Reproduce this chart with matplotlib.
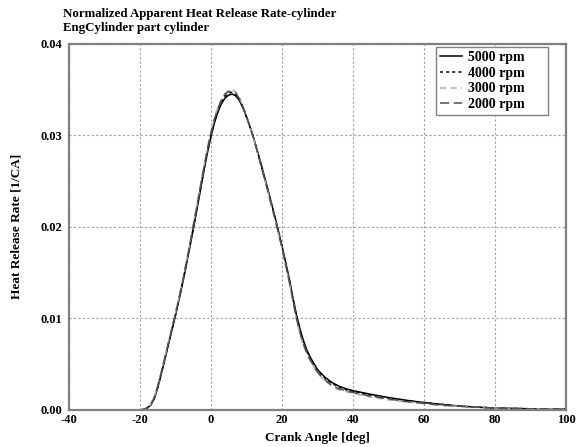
import numpy as np
import matplotlib
matplotlib.use('Agg')
import matplotlib.pyplot as plt

plt.rcParams['font.family'] = ['Liberation Serif', 'DejaVu Serif']
plt.rcParams['font.weight'] = 'bold'
plt.rcParams['axes.labelweight'] = 'bold'
plt.rcParams['axes.unicode_minus'] = False
plt.rcParams['font.size'] = 9

# crank angle [deg] and normalized heat release rate [1/CA]
angle = [-20, -19, -18, -17, -16, -15, -14, -12, -10, -8, -6, -4, -2,
         -1, 0, 1, 2, 3, 4, 5, 6, 7, 8, 9, 10, 11, 12,
         14, 16, 18, 20, 22, 23, 24, 25, 26, 27, 28,
         30, 32, 34, 36, 38, 40, 45, 50, 55, 60, 65, 70, 75, 80, 90, 100]
hrr_5000 = [0.0, 0.00005, 0.0002, 0.0005, 0.0012, 0.0024, 0.0039, 0.0071,
            0.0103, 0.0138, 0.0177, 0.0218, 0.0261,
            0.0281, 0.0299, 0.0314, 0.0326, 0.0335, 0.0341, 0.0344, 0.0345,
            0.0343, 0.0338, 0.0330, 0.0320, 0.0309, 0.0297,
            0.0270, 0.0241, 0.0211, 0.0179, 0.0144, 0.0124, 0.0105, 0.0089,
            0.0076, 0.0065, 0.0057,
            0.0044, 0.0036, 0.0030, 0.0026, 0.0023, 0.0021, 0.0017, 0.00135,
            0.00105, 0.0008, 0.0006, 0.00042, 0.0003, 0.0002, 0.00012, 0.0001]
hrr_4000 = [0.0, 0.00005, 0.0002, 0.0005, 0.0013, 0.0025, 0.0040, 0.0072,
            0.0104, 0.0139, 0.0178, 0.0220, 0.0263,
            0.0283, 0.0301, 0.0316, 0.0328, 0.0337, 0.0343, 0.0346, 0.0347,
            0.0345, 0.0339, 0.0331, 0.0320, 0.0309, 0.0297,
            0.0269, 0.0240, 0.0210, 0.0178, 0.0142, 0.0122, 0.0103, 0.0087,
            0.0074, 0.0064, 0.0056,
            0.0043, 0.0035, 0.0029, 0.0025, 0.0022, 0.0020, 0.0016, 0.0013,
            0.0010, 0.0008, 0.0006, 0.0004, 0.0003, 0.0002, 0.00012, 0.0001]
hrr_3000 = [0.0, 0.00005, 0.0002, 0.0006, 0.0014, 0.0026, 0.0041, 0.0074,
            0.0106, 0.0141, 0.0181, 0.0223, 0.0266,
            0.0286, 0.0304, 0.0319, 0.0331, 0.0340, 0.0346, 0.0349, 0.0350,
            0.0347, 0.0341, 0.0332, 0.0321, 0.0309, 0.0296,
            0.0268, 0.0239, 0.0208, 0.0176, 0.0140, 0.0120, 0.0100, 0.0084,
            0.0071, 0.0061, 0.0053,
            0.0040, 0.0032, 0.0026, 0.0022, 0.0020, 0.0018, 0.0014, 0.0011,
            0.0009, 0.0007, 0.0005, 0.0004, 0.0003, 0.0002, 0.00012, 0.0001]
hrr_2000 = [0.0, 0.00005, 0.0002, 0.0006, 0.0013, 0.0026, 0.0041, 0.0073,
            0.0105, 0.0140, 0.0180, 0.0222, 0.0265,
            0.0285, 0.0303, 0.0318, 0.0330, 0.0339, 0.0345, 0.0348, 0.0348,
            0.0346, 0.0340, 0.0331, 0.0321, 0.0309, 0.0297,
            0.0268, 0.0239, 0.0209, 0.0177, 0.0141, 0.0121, 0.0101, 0.0085,
            0.0072, 0.0062, 0.0054,
            0.0041, 0.0033, 0.0027, 0.0023, 0.0021, 0.0019, 0.0015, 0.0012,
            0.0009, 0.0007, 0.0005, 0.0004, 0.0003, 0.0002, 0.00012, 0.0001]

series = [('5000 rpm', hrr_5000, 'black', '-'),
          ('4000 rpm', hrr_4000, 'black', (0, (2, 2))),
          ('3000 rpm', hrr_3000, '#a8a8a8', (0, (4, 3))),
          ('2000 rpm', hrr_2000, '#505050', (0, (6, 3)))]

fig = plt.figure(figsize=(5.79, 4.47), dpi=100)
ax = fig.add_axes([0.119, 0.083, 0.859, 0.819])

for label, hrr, color, ls in series:
  ax.plot(angle, hrr, color=color, linestyle=ls, linewidth=1.1, label=label)

ax.set_xlim(-40, 100)
ax.set_ylim(0, 0.04)
ax.set_xticks(np.arange(-40, 101, 20))
ax.set_yticks([0.0, 0.01, 0.02, 0.03, 0.04])
ax.set_yticklabels(['0.00', '0.01', '0.02', '0.03', '0.04'])
ax.tick_params(length=0, labelsize=9)
ax.tick_params(axis='y', pad=5)
ax.tick_params(axis='x', pad=3)
ax.grid(True, color='#a0a0a0', linestyle=(0, (2, 2)), linewidth=0.8)
for s in ax.spines.values():
  s.set_color('#808080')
  s.set_linewidth(1.6)

ax.set_xlabel('Crank Angle [deg]', fontsize=9.5, labelpad=4)
ax.set_ylabel('Heat Release Rate [1/CA]', fontsize=9.5, labelpad=13)

fig.text(0.109, 0.962, 'Normalized Apparent Heat Release Rate-cylinder', fontsize=9.3)
fig.text(0.109, 0.930, 'EngCylinder part cylinder', fontsize=9.3)

leg = ax.legend(loc='upper left', bbox_to_anchor=(0.738, 0.992, 0.226, 0),
                mode='expand', borderaxespad=0, fontsize=10, frameon=True,
                fancybox=False, handlelength=1.6, handletextpad=0.4,
                labelspacing=0.2, borderpad=0.3)
leg.get_frame().set_edgecolor('#808080')
leg.get_frame().set_linewidth(1.0)
leg.get_frame().set_alpha(1)

fig.savefig('out.png', dpi=100)
